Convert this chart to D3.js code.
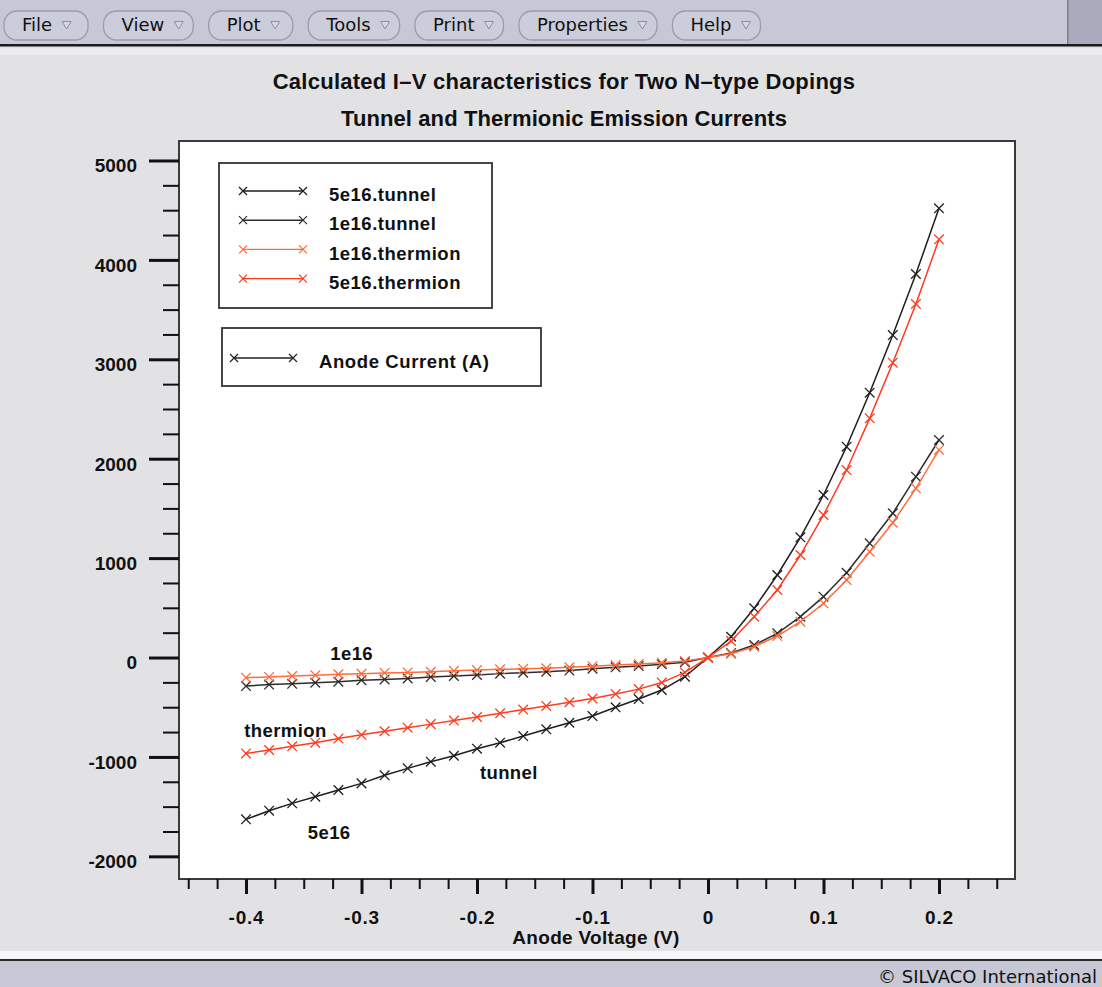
<!DOCTYPE html>
<html>
<head>
<meta charset="utf-8">
<script src="https://cdn.jsdelivr.net/npm/d3@7"></script>
<style>
  html, body { margin: 0; padding: 0; background: #e2e2e5; overflow: hidden; }
  svg { display: block; }
</style>
</head>
<body>
<svg id="chart" width="1102" height="987"></svg>
<script>
// Anode voltage sweep (V)
const voltage = [-0.40, -0.38, -0.36, -0.34, -0.32, -0.30, -0.28, -0.26, -0.24, -0.22,
                 -0.20, -0.18, -0.16, -0.14, -0.12, -0.10, -0.08, -0.06, -0.04, -0.02,
                  0.00,  0.02,  0.04,  0.06,  0.08,  0.10,  0.12,  0.14,  0.16,  0.18, 0.20];

// Anode current (A) for each doping / emission model
const tunnel5e16 = [-1628, -1541, -1467, -1400, -1333, -1266, -1185, -1115, -1048, -988,
                    -917, -857, -790, -722, -656, -589, -501, -418, -327, -193,
                    0, 209, 495, 830, 1209, 1635, 2121, 2664, 3244, 3858, 4519];
const tunnel1e16 = [-287, -272, -265, -253, -243, -228, -220, -210, -195, -186,
                    -176, -162, -153, -143, -131, -112, -99, -86, -68, -48,
                    0, 45, 126, 243, 411, 612, 853, 1149, 1451, 1819, 2188];
const thermion1e16 = [-203, -195, -186, -178, -168, -163, -155, -150, -143, -134,
                      -126, -119, -114, -108, -99, -87, -76, -65, -52, -36,
                      0, 38, 109, 216, 360, 545, 780, 1065, 1356, 1702, 2088];
const thermion5e16 = [-965, -930, -893, -857, -815, -778, -742, -706, -670, -634,
                      -598, -561, -524, -487, -450, -412, -368, -318, -252, -150,
                      0, 166, 411, 679, 1031, 1434, 1886, 2406, 2966, 3556, 4207];

const seriesNames = ["5e16.tunnel", "1e16.tunnel", "1e16.thermion", "5e16.thermion"];
const seriesValues = [tunnel5e16, tunnel1e16, thermion1e16, thermion5e16];
const seriesColors = ["#1e1e1e", "#2c2c2c", "#ff6b3d", "#ff3b1f"];

// Axis ticks
const yMajorTicks = [-2000, -1000, 0, 1000, 2000, 3000, 4000, 5000];
const yTickLabels = ["-2000", "-1000", "0", "1000", "2000", "3000", "4000", "5000"];
const xMajorTicks = [-0.4, -0.3, -0.2, -0.1, 0, 0.1, 0.2];
const xTickLabels = ["-0.4", "-0.3", "-0.2", "-0.1", "0", "0.1", "0.2"];

// In-plot annotations, placed in data coordinates (V, A)
const annotations = [
  { text: "1e16",     v: -0.327, a: 45 },
  { text: "thermion", v: -0.4015, a: -729 },
  { text: "tunnel",   v: -0.1975, a: -1160 },
  { text: "5e16",     v: -0.3465, a: -1763 }
];

const menuItems = ["File", "View", "Plot", "Tools", "Print", "Properties", "Help"];

const titleText = "Calculated I\u2013V characteristics for Two N\u2013type Dopings";
const subtitleText = "Tunnel and Thermionic Emission Currents";
const xAxisTitle = "Anode Voltage (V)";
const quantityLabel = "Anode Current (A)";
const footerText = "\u00A9 SILVACO International";

const BOLD = "'Liberation Sans', Arial, Helvetica, sans-serif";
const UI = "'DejaVu Sans', 'Noto Sans', sans-serif";

const svg = d3.select("#chart");

// ---------- window chrome ----------
svg.append("rect").attr("x", 0).attr("y", 0).attr("width", 1102).attr("height", 987).attr("fill", "#e2e2e5");

const menuBar = svg.append("g");
menuBar.append("rect").attr("x", 0).attr("y", 0).attr("width", 1102).attr("height", 44).attr("fill", "#c6c8d6");
menuBar.append("rect").attr("x", 1068).attr("y", 0).attr("width", 34).attr("height", 44).attr("fill", "#a9abbc");
menuBar.append("rect").attr("x", 1067).attr("y", 0).attr("width", 1.5).attr("height", 44).attr("fill", "#7c7e8e");
menuBar.append("rect").attr("x", 0).attr("y", 44).attr("width", 1102).attr("height", 2.5).attr("fill", "#1b1b1b");
menuBar.append("rect").attr("x", 0).attr("y", 48.5).attr("width", 1102).attr("height", 6.5).attr("fill", "#ececf0");

let mx = 4;
menuItems.forEach(name => {
  const g = menuBar.append("g");
  const btn = g.append("rect").attr("y", 11).attr("height", 29).attr("rx", 13).attr("ry", 13)
    .attr("fill", "#cbcddb").attr("stroke", "#9a9cae").attr("stroke-width", 1.3);
  const label = g.append("text").attr("x", mx + 18).attr("y", 31)
    .attr("font-family", UI).attr("font-size", 18).attr("fill", "#111").text(name);
  const tw = label.node().getComputedTextLength();
  const tx = mx + 18 + tw + 10;
  g.append("path")
    .attr("d", `M${tx},${21.5}L${tx + 9},${21.5}L${tx + 4.5},${29}Z`)
    .attr("fill", "#d6d7e2").attr("stroke", "#8c8ea2").attr("stroke-width", 1);
  const w = Math.max(tw + 47, 84);
  btn.attr("x", mx).attr("width", w);
  mx += w + 15.5;
});

// footer
svg.append("rect").attr("x", 0).attr("y", 951).attr("width", 1102).attr("height", 8).attr("fill", "#f7f7f9");
svg.append("rect").attr("x", 0).attr("y", 959).attr("width", 1102).attr("height", 2).attr("fill", "#2a2a2a");
svg.append("rect").attr("x", 0).attr("y", 961).attr("width", 1102).attr("height", 26).attr("fill", "#c6c8d6");
svg.append("text").attr("x", 1097).attr("y", 982.5).attr("text-anchor", "end")
  .attr("font-family", UI).attr("font-size", 18).attr("fill", "#111").text(footerText);

// ---------- titles ----------
svg.append("text").attr("x", 564).attr("y", 88.5).attr("text-anchor", "middle")
  .attr("font-family", BOLD).attr("font-weight", "bold").attr("font-size", 22)
  .attr("letter-spacing", 0.25).attr("fill", "#111").text(titleText);
svg.append("text").attr("x", 564).attr("y", 125.5).attr("text-anchor", "middle")
  .attr("font-family", BOLD).attr("font-weight", "bold").attr("font-size", 22)
  .attr("letter-spacing", 0.1).attr("fill", "#111").text(subtitleText);

// ---------- scales ----------
const x = d3.scaleLinear().domain([-0.458, 0.2658]).range([179, 1015]);
const y = d3.scaleLinear().domain([-2228, 5196]).range([879, 141]);

// plot frame
svg.append("rect")
  .attr("x", x.range()[0]).attr("y", y.range()[1])
  .attr("width", x.range()[1] - x.range()[0]).attr("height", y.range()[0] - y.range()[1])
  .attr("fill", "#ffffff").attr("stroke", "#3a3a3a").attr("stroke-width", 2);

// minor tick positions (every quarter of a major step, inside the domain)
const yMinor = d3.range(-2250, 5251, 250).filter(v => v % 1000 !== 0 && v >= y.domain()[0] && v <= y.domain()[1]);
const xMinor = d3.range(-18, 11).map(i => +(i * 0.025).toFixed(3))
  .filter(v => Math.abs(Math.round(v * 10) - v * 10) > 1e-6 && v >= x.domain()[0] && v <= x.domain()[1]);

// y axis
const yMinorAxis = svg.append("g").attr("transform", `translate(${x.range()[0]},0)`)
  .call(d3.axisLeft(y).tickValues(yMinor).tickSize(16).tickFormat(""));
yMinorAxis.select(".domain").remove();
yMinorAxis.selectAll("line").attr("stroke", "#111").attr("stroke-width", 2);

const yAxis = svg.append("g").attr("transform", `translate(${x.range()[0]},0)`)
  .call(d3.axisLeft(y).tickValues(yMajorTicks).tickSize(30).tickPadding(12)
    .tickFormat((d, i) => yTickLabels[i]));
yAxis.select(".domain").remove();
yAxis.selectAll("line").attr("stroke", "#111").attr("stroke-width", 3);
yAxis.selectAll("text").attr("font-family", BOLD).attr("font-weight", "bold")
  .attr("font-size", 19).attr("fill", "#111").attr("dy", "0.6em");

// x axis
const xMinorAxis = svg.append("g").attr("transform", `translate(0,${y.range()[0]})`)
  .call(d3.axisBottom(x).tickValues(xMinor).tickSize(10).tickFormat(""));
xMinorAxis.select(".domain").remove();
xMinorAxis.selectAll("line").attr("stroke", "#111").attr("stroke-width", 2);

const xAxis = svg.append("g").attr("transform", `translate(0,${y.range()[0]})`)
  .call(d3.axisBottom(x).tickValues(xMajorTicks).tickSize(15).tickPadding(17)
    .tickFormat((d, i) => xTickLabels[i]));
xAxis.select(".domain").remove();
xAxis.selectAll("line").attr("stroke", "#111").attr("stroke-width", 3);
xAxis.selectAll("text").attr("font-family", BOLD).attr("font-weight", "bold")
  .attr("font-size", 19).attr("fill", "#111").attr("letter-spacing", 0.8);

svg.append("text").attr("x", 596).attr("y", 944).attr("text-anchor", "middle")
  .attr("font-family", BOLD).attr("font-weight", "bold").attr("font-size", 19)
  .attr("letter-spacing", 0.3).attr("fill", "#111").text(xAxisTitle);

// ---------- series ----------
const crossPath = r => `M${-r},${-r}L${r},${r}M${-r},${r}L${r},${-r}`;
const line = d3.line().x(d => x(d[0])).y(d => y(d[1]));

const plot = svg.append("g");
seriesValues.forEach((vals, si) => {
  const pts = voltage.map((v, i) => [v, vals[i]]);
  plot.append("path").datum(pts).attr("d", line)
    .attr("fill", "none").attr("stroke", seriesColors[si]).attr("stroke-width", 1.5);
  plot.selectAll(null).data(pts).enter().append("path")
    .attr("transform", d => `translate(${x(d[0])},${y(d[1])})`)
    .attr("d", crossPath(4.8))
    .attr("fill", "none").attr("stroke", seriesColors[si]).attr("stroke-width", 1.3);
});

// annotations
svg.append("g").selectAll("text").data(annotations).enter().append("text")
  .attr("x", d => x(d.v)).attr("y", d => y(d.a)).attr("dy", "0.36em")
  .attr("font-family", BOLD).attr("font-weight", "bold").attr("font-size", 18.5)
  .attr("letter-spacing", 0.4).attr("fill", "#111").text(d => d.text);

// ---------- legends ----------
const legend = svg.append("g");
legend.append("rect").attr("x", 219).attr("y", 163).attr("width", 273).attr("height", 145)
  .attr("fill", "#ffffff").attr("stroke", "#333").attr("stroke-width", 1.8);
seriesNames.forEach((name, i) => {
  const ly = 191 + i * 29.2;
  legend.append("line").attr("x1", 243).attr("x2", 303).attr("y1", ly).attr("y2", ly)
    .attr("stroke", seriesColors[i]).attr("stroke-width", 1.4);
  [243, 303].forEach(px => legend.append("path")
    .attr("transform", `translate(${px},${ly})`).attr("d", crossPath(4))
    .attr("fill", "none").attr("stroke", seriesColors[i]).attr("stroke-width", 1.2));
  legend.append("text").attr("x", 329).attr("y", ly + 3.5).attr("dy", "0.36em")
    .attr("font-family", BOLD).attr("font-weight", "bold").attr("font-size", 18.5)
    .attr("letter-spacing", 0.5).attr("fill", "#111").text(name);
});

legend.append("rect").attr("x", 222).attr("y", 328).attr("width", 319).attr("height", 58)
  .attr("fill", "#ffffff").attr("stroke", "#333").attr("stroke-width", 1.8);
legend.append("line").attr("x1", 234).attr("x2", 293).attr("y1", 358).attr("y2", 358)
  .attr("stroke", "#222").attr("stroke-width", 1.4);
[234, 293].forEach(px => legend.append("path")
  .attr("transform", `translate(${px},358)`).attr("d", crossPath(4))
  .attr("fill", "none").attr("stroke", "#222").attr("stroke-width", 1.2));
legend.append("text").attr("x", 319).attr("y", 361.5).attr("dy", "0.36em")
  .attr("font-family", BOLD).attr("font-weight", "bold").attr("font-size", 18.5)
  .attr("letter-spacing", 0.6).attr("fill", "#111").text(quantityLabel);
</script>
</body>
</html>
